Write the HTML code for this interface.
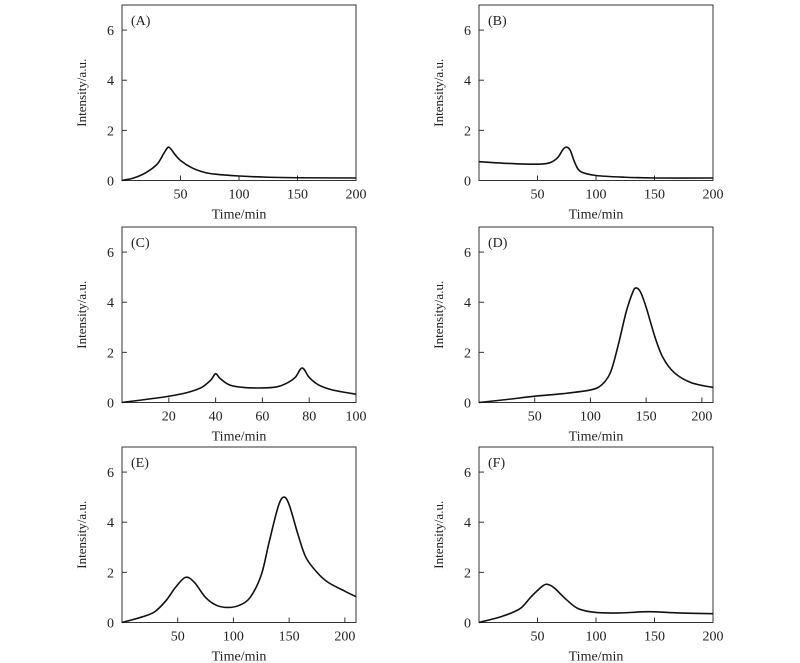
<!DOCTYPE html>
<html><head><meta charset="utf-8"><style>
html,body{margin:0;padding:0;background:#fff;}
svg{display:block;font-family:"Liberation Serif","Times New Roman",serif;}
</style></head><body>
<svg id="chart" width="800" height="663" viewBox="0 0 800 663"></svg>
<script>
const panelLabels=["(A)","(B)","(C)","(D)","(E)","(F)"];
const xMaxes=[200,200,100,210,210,200];
const xTickSets=[[50,100,150,200],[50,100,150,200],[20,40,60,80,100],[50,100,150,200],[50,100,150,200],[50,100,150,200]];
const yTicks=[0,2,4,6];
const xA=[0,10,20,30,36,40,45,50,60,70,80,100,125,150,200];
const yA=[0,0.1,0.3,0.65,1.1,1.33,1.05,0.8,0.5,0.33,0.25,0.18,0.13,0.11,0.1];
const xB=[0,25,50,60,67,72,75,78,82,87,100,125,150,200];
const yB=[0.75,0.68,0.65,0.7,0.9,1.25,1.33,1.2,0.7,0.35,0.2,0.13,0.1,0.1];
const xC=[0,10,20,28,34,38,40,42,46,52,60,66,70,74,77,80,84,90,100];
const yC=[0,0.12,0.25,0.4,0.6,0.9,1.15,0.95,0.7,0.6,0.58,0.62,0.75,1.0,1.38,1.0,0.7,0.5,0.33];
const xD=[0,25,50,75,100,110,118,125,132,138,141,145,150,158,165,175,190,210];
const yD=[0,0.12,0.25,0.35,0.5,0.7,1.2,2.3,3.6,4.4,4.57,4.4,3.8,2.6,1.8,1.2,0.8,0.6];
const xE=[0,20,30,40,48,57,65,75,85,95,105,115,125,132,140,145,150,158,165,175,185,200,210];
const yE=[0,0.25,0.45,0.9,1.4,1.8,1.6,1.0,0.68,0.6,0.68,1.0,1.9,3.2,4.6,5.0,4.7,3.5,2.6,2.0,1.6,1.25,1.03];
const xF=[0,20,35,45,55,60,65,75,85,100,120,145,170,200];
const yF=[0,0.25,0.55,1.05,1.48,1.5,1.35,0.9,0.55,0.4,0.38,0.43,0.38,0.35];
const seriesX=[xA,xB,xC,xD,xE,xF];
const seriesY=[yA,yB,yC,yD,yE,yF];

const NS="http://www.w3.org/2000/svg";
const svg=document.getElementById('chart');
function mk(tag,attrs,parent){const e=document.createElementNS(NS,tag);for(const k in attrs)e.setAttribute(k,attrs[k]);(parent||svg).appendChild(e);return e;}
const lefts=[122,479],tops=[5,227,447],W=234,H=175.5,YMAX=7;
for(let i=0;i<6;i++){
  const L=lefts[i%2],T=tops[Math.floor(i/2)],B=T+H,R=L+W;
  const xs=v=>L+v/xMaxes[i]*W, ys=v=>B-v/YMAX*H;
  const g=mk('g',{});
  
  
  const fr=mk('rect',{x:L,y:T,width:W,height:H,fill:'none',stroke:'#333','stroke-width':1},g);
  
  yTicks.forEach(t=>{const y=ys(t);
    mk('line',{x1:L,x2:L+5,y1:y,y2:y,stroke:'#333'},g);
    const tx=mk('text',{x:L-8,y:y+5,'text-anchor':'end','font-size':14,fill:'#222'},g);tx.textContent=t;
    });
  xTickSets[i].forEach(t=>{const x=xs(t);
    if(t<xMaxes[i]) mk('line',{x1:x,x2:x,y1:B,y2:B-5,stroke:'#333'},g);
    const tx=mk('text',{x:x,y:B+18,'text-anchor':'middle','font-size':14,fill:'#222'},g);tx.textContent=t;
    });
  const xt=mk('text',{x:L+W/2,y:B+38,'text-anchor':'middle','font-size':14,fill:'#222'},g);xt.textContent='Time/min';
  
  const yt=mk('text',{x:0,y:0,'text-anchor':'middle','font-size':13,fill:'#222',transform:`translate(${L-36},${T+H/2}) rotate(-90)`},g);yt.textContent='Intensity/a.u.';
  
  const pl=mk('text',{x:L+9,y:T+20,'font-size':14,fill:'#222'},g);pl.textContent=panelLabels[i];
  
  const P=seriesX[i].map((v,k)=>[xs(v),ys(seriesY[i][k])]);
  let d='M'+P[0][0]+','+P[0][1];
  for(let k=0;k<P.length-1;k++){
    const p0=P[Math.max(0,k-1)],p1=P[k],p2=P[k+1],p3=P[Math.min(P.length-1,k+2)];
    const c1=[p1[0]+(p2[0]-p0[0])/6,p1[1]+(p2[1]-p0[1])/6],c2=[p2[0]-(p3[0]-p1[0])/6,p2[1]-(p3[1]-p1[1])/6];
    d+=` C${c1[0]},${c1[1]} ${c2[0]},${c2[1]} ${p2[0]},${p2[1]}`;
  }
  const ln=mk('path',{d:d,fill:'none',stroke:'#111','stroke-width':1.6},g);
  
}
</script>
</body></html>
